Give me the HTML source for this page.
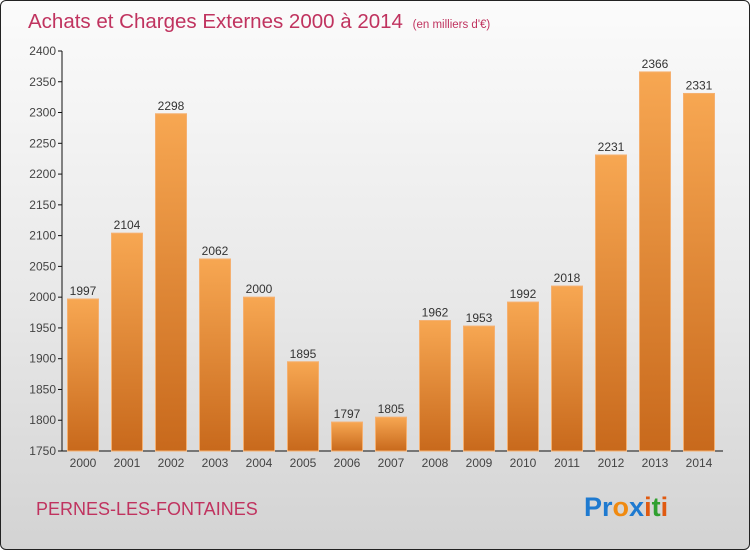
<!DOCTYPE html>
<html><head><meta charset="utf-8"><style>
body{margin:0;width:750px;height:550px;overflow:hidden;font-family:"Liberation Sans",sans-serif}
#frame{position:absolute;left:0;top:0;width:748px;height:548px;border:1px solid #222;border-radius:6px;background:linear-gradient(#fbfbfb 0%,#e8e8e8 55%,#d3d3d3 100%);overflow:hidden}
</style></head><body>
<div id="frame">
<svg width="750" height="550">
<defs><linearGradient id="bg" x1="0" y1="0" x2="0" y2="1"><stop offset="0" stop-color="#f7a752"/><stop offset="1" stop-color="#c8691c"/></linearGradient></defs>
<text x="27" y="27" font-size="20.5" fill="#c0335f">Achats et Charges Externes 2000 à 2014 <tspan font-size="11.5" dx="4">(en milliers d'€)</tspan></text>
<g id="axes"></g><g id="bars"></g>
<text x="35" y="514" font-size="18" fill="#c0335f">PERNES-LES-FONTAINES</text>
<text x="583" y="515" font-size="27" font-weight="bold"><tspan fill="#1e7ad0">Pr</tspan><tspan fill="#f08a10">o</tspan><tspan fill="#1e7ad0">x</tspan><tspan fill="#e05a10">i</tspan><tspan fill="#30a030">t</tspan><tspan fill="#e05a10">i</tspan></text>
</svg></div>
<script>
const years=["2000","2001","2002","2003","2004","2005","2006","2007","2008","2009","2010","2011","2012","2013","2014"];
const values=[1997,2104,2298,2062,2000,1895,1797,1805,1962,1953,1992,2018,2231,2366,2331];
const ticks=[1750,1800,1850,1900,1950,2000,2050,2100,2150,2200,2250,2300,2350,2400];
const NS="http://www.w3.org/2000/svg";
const y=v=>450-(v-1750)*400/650;
const x=i=>82+i*44;
const ax=document.getElementById('axes'),bg=document.getElementById('bars');
function mk(p,t,a){const e=document.createElementNS(NS,t);for(const k in a)e.setAttribute(k,a[k]);p.appendChild(e);return e;}
let l=mk(ax,'line',{x1:61,y1:50,x2:61,y2:450,stroke:'#111'});


l=mk(ax,'line',{x1:61,y1:450,x2:722,y2:450,stroke:'#111'});


ticks.forEach(t=>{
 mk(ax,'line',{x1:57,y1:y(t),x2:61,y2:y(t),stroke:'#111'});
 const tx=mk(ax,'text',{x:55,y:y(t)+4,'font-size':12,'text-anchor':'end',fill:'#444'});tx.textContent=t;
 
 
});
years.forEach((yr,i)=>{
 const r=mk(bg,'rect',{x:x(i)-15.5,y:y(values[i]),width:31,height:450-y(values[i]),fill:'url(#bg)',stroke:'#f5b070','stroke-width':1});
 
 
 const v=mk(bg,'text',{x:x(i),y:y(values[i])-4,'font-size':12,'text-anchor':'middle',fill:'#333'});v.textContent=values[i];
 
 
 const t=mk(ax,'text',{x:x(i),y:466,'font-size':12,'text-anchor':'middle',fill:'#444'});t.textContent=yr;
 
 
});
</script>
</body></html>
